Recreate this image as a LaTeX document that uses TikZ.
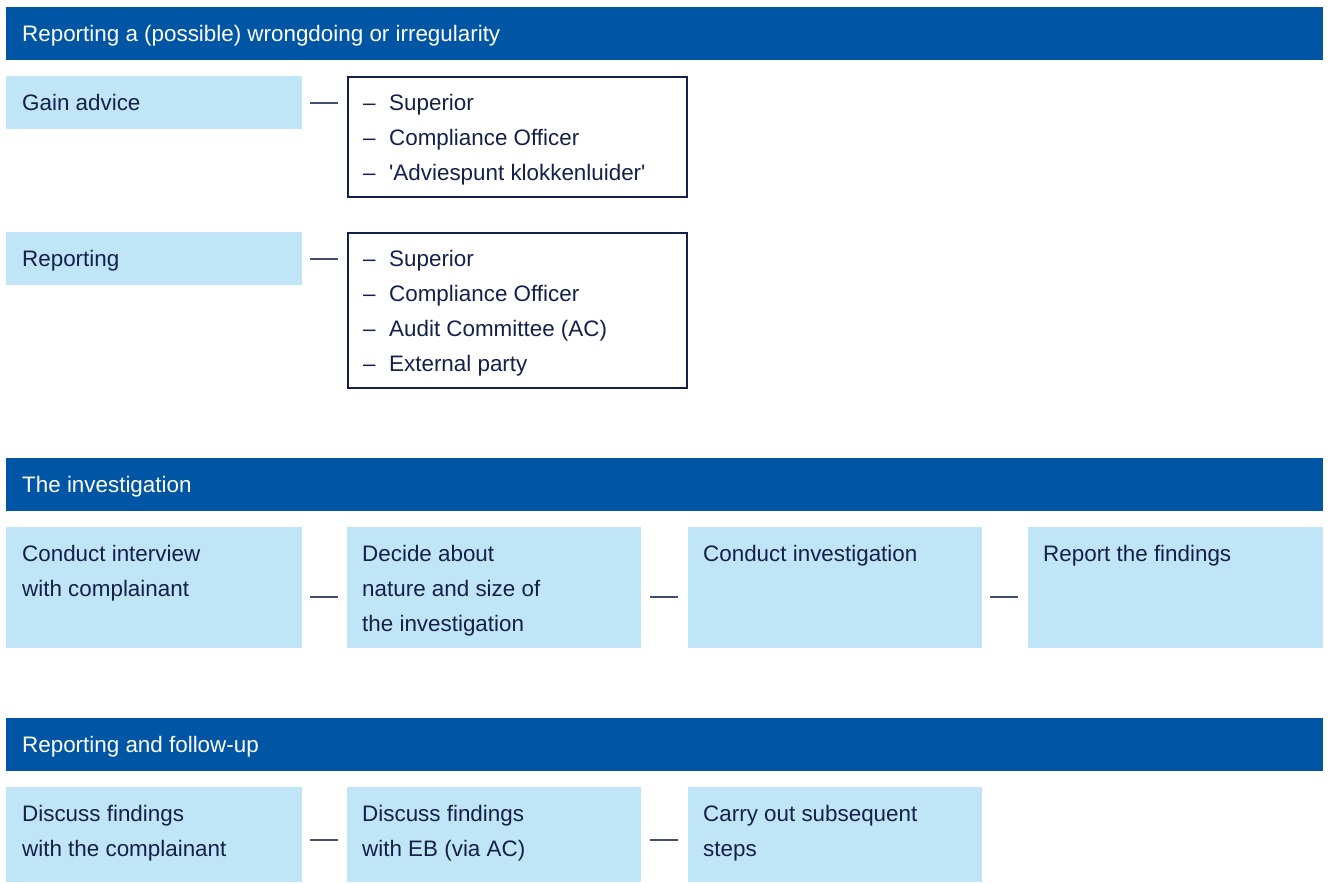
\documentclass[tikz,border=0pt]{standalone}
\usepackage{fontspec}
\setmainfont{Liberation Sans}
\definecolor{hdrblue}{HTML}{0055A5}
\definecolor{lightbox}{HTML}{BFE5F6}
\definecolor{navy}{HTML}{14204A}
\tikzset{
  hdr/.style={fill=hdrblue, draw=none},
  lbox/.style={fill=lightbox, draw=none},
  listbox/.style={draw=navy, line width=1.2pt, fill=white},
  hdrtext/.style={anchor=base west, inner sep=0pt, text=white, font=\fontsize{22.4}{35}\selectfont},
  btext/.style={anchor=base west, inner sep=0pt, text=navy, align=left, font=\fontsize{22.4}{35}\selectfont},
  conn/.style={draw=navy!80, line width=1.2pt},
}
\begin{document}
\begin{tikzpicture}[x=1pt,y=-1pt]
\useasboundingbox (0,0) rectangle (1332,883);
% Section 1
\fill[hdr] (6,7) rectangle (1323,60);
\node[hdrtext] (h1) at (22,41.5) {Reporting a (possible) wrongdoing or irregularity};

\fill[lbox] (6,76) rectangle (302,129);
\node[btext] (ga) at (22,110) {Gain advice};
\draw[listbox] (348,77) rectangle (687,197);
\coordinate (ga1) at (310,103); \coordinate (ga2) at (338,103);
\draw[conn] (ga1) -- (ga2);
\node[btext] (d1a) at (363,110) {–};
\node[btext] (d1b) at (363,145) {–};
\node[btext] (d1c) at (363,180) {–};
\node[btext] (l1a) at (389,110) {Superior};
\node[btext] (l1b) at (389,145) {Compliance Officer};
\node[btext] (l1c) at (389,180) {\textquotesingle Adviespunt klokkenluider\textquotesingle};

\fill[lbox] (6,232) rectangle (302,285);
\node[btext] (rp) at (22,266) {Reporting};
\draw[listbox] (348,233) rectangle (687,388);
\coordinate (rp1) at (310,259); \coordinate (rp2) at (338,259);
\draw[conn] (rp1) -- (rp2);
\node[btext] (d2a) at (363,266) {–};
\node[btext] (d2b) at (363,301) {–};
\node[btext] (d2c) at (363,336) {–};
\node[btext] (d2d) at (363,371) {–};
\node[btext] (l2a) at (389,266) {Superior};
\node[btext] (l2b) at (389,301) {Compliance Officer};
\node[btext] (l2c) at (389,336) {Audit Committee (AC)};
\node[btext] (l2d) at (389,371) {External party};

% Section 2
\fill[hdr] (6,458) rectangle (1323,511);
\node[hdrtext] (h2) at (22,492) {The investigation};
\fill[lbox] (6,527) rectangle (302,648);
\fill[lbox] (347,527) rectangle (641,648);
\fill[lbox] (688,527) rectangle (982,648);
\fill[lbox] (1028,527) rectangle (1323,648);
\node[btext] (b21) at (22,596) {Conduct interview\\with complainant};
\node[btext] (b22) at (362,631) {Decide about\\nature and size of\\the investigation};
\node[btext] (b23) at (703,561) {Conduct investigation};
\node[btext] (b24) at (1043,561) {Report the findings};
\coordinate (c1a) at (310,597); \coordinate (c1b) at (338,597);
\coordinate (c2a) at (650,597); \coordinate (c2b) at (678,597);
\coordinate (c3a) at (990,597); \coordinate (c3b) at (1018,597);
\draw[conn] (c1a) -- (c1b);
\draw[conn] (c2a) -- (c2b);
\draw[conn] (c3a) -- (c3b);

% Section 3
\fill[hdr] (6,718) rectangle (1323,771);
\node[hdrtext] (h3) at (22,752) {Reporting and follow-up};
\fill[lbox] (6,787) rectangle (302,882);
\fill[lbox] (347,787) rectangle (641,882);
\fill[lbox] (688,787) rectangle (982,882);
\node[btext] (b31) at (22,856) {Discuss findings\\with the complainant};
\node[btext] (b32) at (362,856) {Discuss findings\\with EB (via AC)};
\node[btext] (b33) at (703,856) {Carry out subsequent\\steps};
\coordinate (e1a) at (310,840); \coordinate (e1b) at (338,840);
\coordinate (e2a) at (650,840); \coordinate (e2b) at (678,840);
\draw[conn] (e1a) -- (e1b);
\draw[conn] (e2a) -- (e2b);
\end{tikzpicture}
\end{document}
